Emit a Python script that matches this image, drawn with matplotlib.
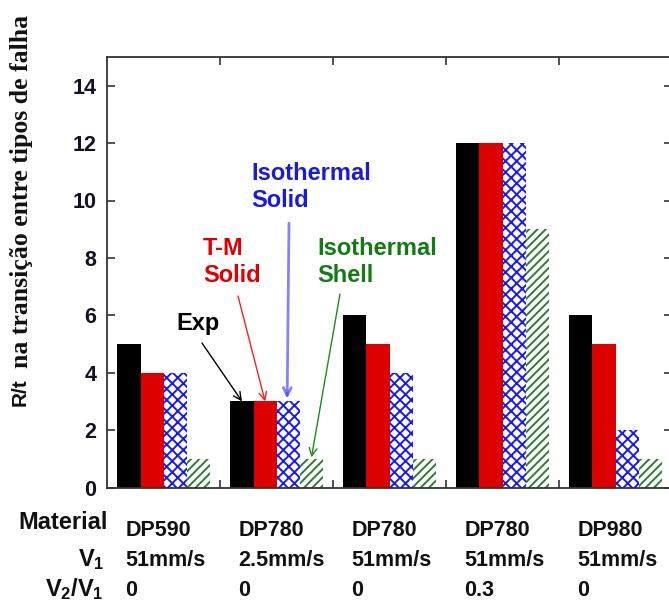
import numpy as np
import matplotlib
matplotlib.use("Agg")
import matplotlib.pyplot as plt

materials = ["DP590", "DP780", "DP780", "DP780", "DP980"]
v1_labels = ["51mm/s", "2.5mm/s", "51mm/s", "51mm/s", "51mm/s"]
ratio_labels = ["0", "0", "0", "0.3", "0"]
exp_vals = [5, 3, 6, 12, 6]
tm_solid = [4, 3, 5, 12, 5]
iso_solid = [4, 3, 4, 12, 2]
iso_shell = [1, 1, 1, 9, 1]
yticks = [0, 2, 4, 6, 8, 10, 12, 14]

plt.rcParams['mathtext.fontset'] = 'custom'
plt.rcParams['mathtext.rm'] = 'Liberation Sans:bold'
plt.rcParams['mathtext.it'] = 'Liberation Sans:bold'
plt.rcParams['mathtext.bf'] = 'Liberation Sans:bold'
plt.rcParams['hatch.linewidth'] = 1.4

SANS = 'Liberation Sans'
fig = plt.figure(figsize=(6.69, 6.11), dpi=100)
W, H = 669, 611
ax_left, ax_right, ax_top, ax_bot = 107.3, 672.0, 57.0, 487.5
ax = fig.add_axes([ax_left / W, 1 - ax_bot / H, (ax_right - ax_left) / W, (ax_bot - ax_top) / H])

x = np.arange(len(materials))
bw = 0.205
ax.bar(x - 1.5 * bw, exp_vals, bw, color='black', linewidth=0)
ax.bar(x - 0.5 * bw, tm_solid, bw, color='#dd0000', linewidth=0)
ax.bar(x + 0.5 * bw, iso_solid, bw, color='white', edgecolor='#1a1aee', hatch='xxx', linewidth=0)
ax.bar(x + 1.5 * bw, iso_shell, bw, color='white', edgecolor='#2e7d32', hatch='////', linewidth=0)

ax.set_xlim(-0.5, len(materials) - 0.5)
ax.set_ylim(0, 15)
ax.set_yticks(yticks)
ax.set_yticklabels([str(v) for v in yticks], fontsize=15.5, fontweight='bold', family=SANS, color='#111122')
ax.set_xticks(x[:-1] + 0.5)
ax.set_xticklabels([])
ax.tick_params(axis='both', direction='in', length=5.5, width=1.2, color='#333333',
               top=True, right=True, labelright=False)
ax.tick_params(axis='y', pad=8)
for s in ax.spines.values():
    s.set_linewidth(1.3)
    s.set_color('#333333')

# bottom table
for i in range(len(materials)):
    for txt, yy in zip([materials[i], v1_labels[i], ratio_labels[i]], [-0.101, -0.169, -0.239]):
        ax.text(i - 0.34, yy, txt, transform=ax.get_xaxis_transform(), ha='left', va='center',
                fontsize=15.5, fontweight='bold', family=SANS, color='#111111', clip_on=False)
row_kw = dict(transform=ax.get_yaxis_transform(), ha='right', va='center', fontsize=17,
              fontweight='bold', family=SANS, color='#111111', clip_on=False)
ax.text(0.0, -1.22, "Material", **row_kw)
ax.text(-0.006, -2.5, r"$V_1$", **row_kw)
ax.text(-0.006, -3.55, r"$V_2$/$V_1$", **row_kw)

# y label (mixed fonts)
fig.text(20 / W, 1 - 406 / H, "R/t", rotation=90, ha='center', va='bottom', fontsize=15,
         fontweight='bold', family=SANS, color='#111111')
fig.text(22 / W, 1 - 368 / H, "na transição entre tipos de falha", rotation=90, ha='center',
         va='bottom', fontsize=18.5, fontweight='bold', family='Liberation Serif', color='#111111')

# annotations
def px2data(px, py):
    xd = (px - ax_left) / (ax_right - ax_left) * 5 - 0.5
    yd = (ax_bot - py) / (ax_bot - ax_top) * 15
    return xd, yd

afs = 17
tx, ty = px2data(176, 330)
ax.text(tx, ty, "Exp", color='black', fontsize=afs, fontweight='bold', family=SANS, va='baseline')
tx, ty = px2data(203, 282)
ax.text(tx, ty, "T-M\nSolid", color='#dd0000', fontsize=afs, fontweight='bold', family=SANS,
        va='baseline', linespacing=1.2)
tx, ty = px2data(251, 207)
ax.text(tx, ty, "Isothermal\nSolid", color='#1a1add', fontsize=afs, fontweight='bold', family=SANS,
        va='baseline', linespacing=1.2)
tx, ty = px2data(317, 282)
ax.text(tx, ty, "Isothermal\nShell", color='#157a15', fontsize=afs, fontweight='bold', family=SANS,
        va='baseline', linespacing=1.2)

arrows = [((202, 343), (1 - 1.5 * bw, exp_vals[1]), 'black', 1.0, 1.0),
          ((238, 296), (1 - 0.5 * bw, tm_solid[1]), '#ee2222', 1.0, 1.0),
          ((289, 223), (1 + 0.5 * bw - 0.01, iso_solid[1] + 0.1), '#3333ee', 2.0, 0.6),
          ((340, 294), (1 + 1.5 * bw, iso_shell[1] + 0.05), '#1e8a1e', 1.0, 1.0)]
for (sx, sy), (ex, ey), c, lw, al in arrows:
    ax.annotate("", xy=(ex, ey), xytext=px2data(sx, sy),
                arrowprops=dict(arrowstyle='->', color=c, lw=lw, alpha=al,
                                shrinkA=0, shrinkB=0, mutation_scale=14))

fig.savefig("out.png", dpi=100)
